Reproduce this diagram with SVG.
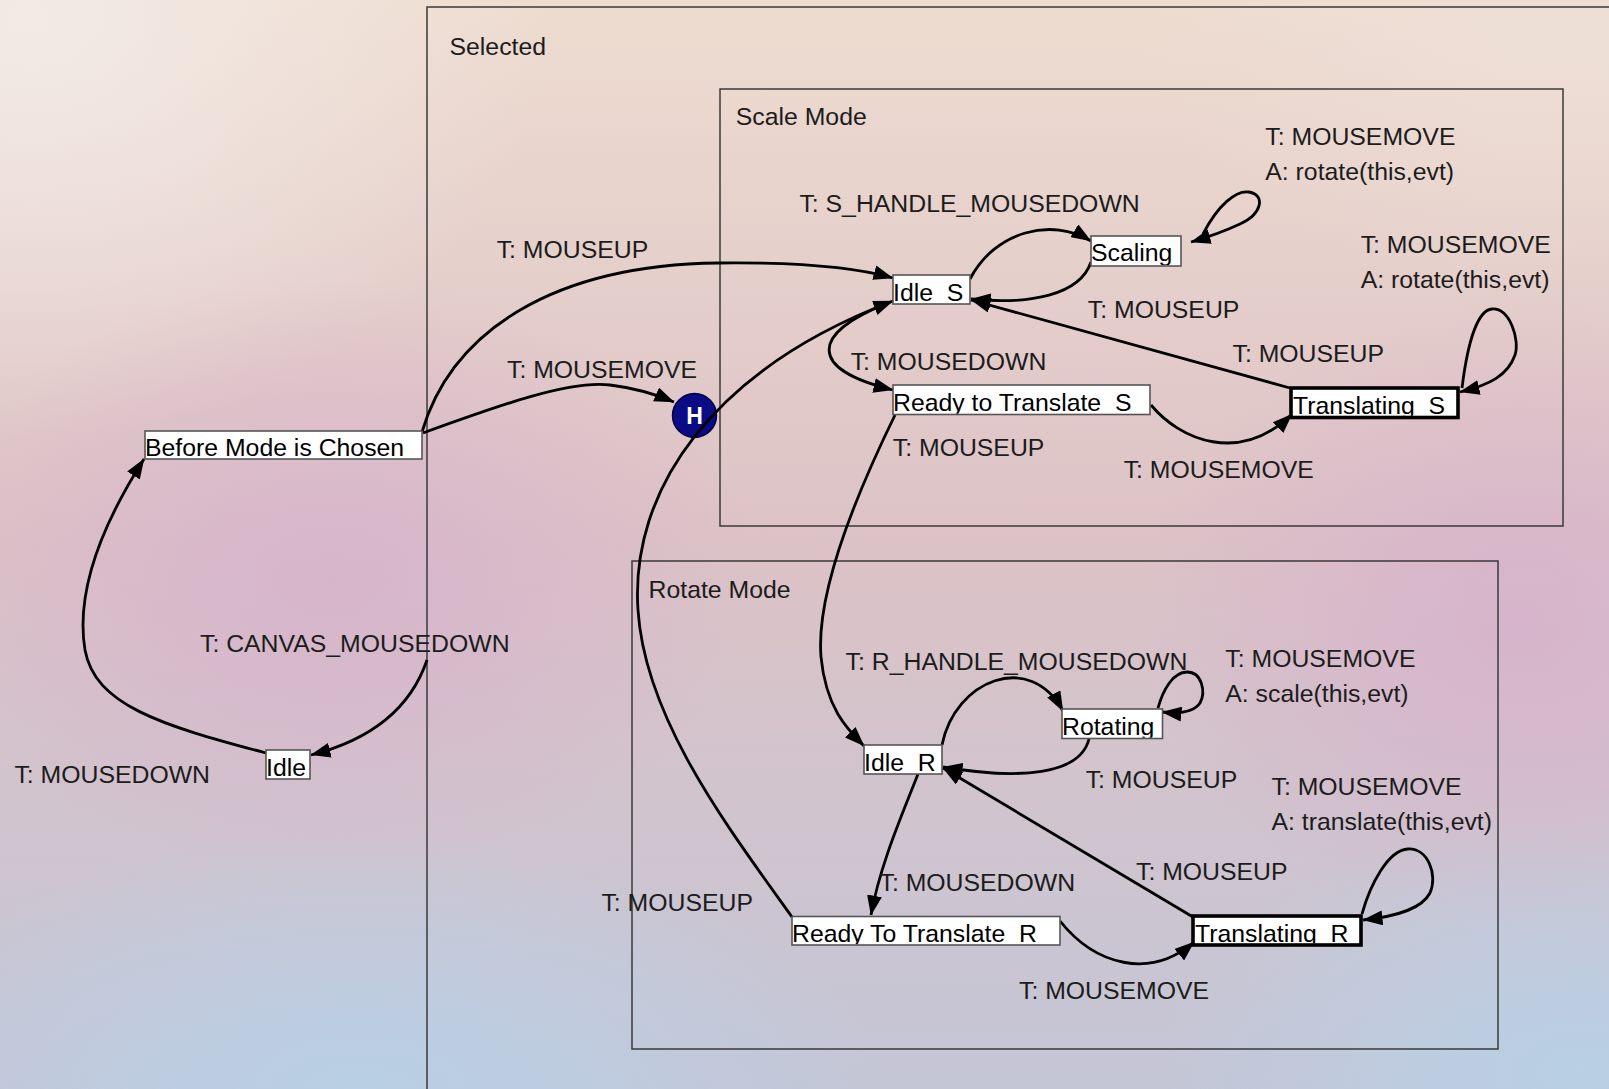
<svg xmlns="http://www.w3.org/2000/svg" width="1609" height="1089" viewBox="0 0 1609 1089">
  <defs>
    <linearGradient id="bgBase" x1="0" y1="0" x2="0" y2="1">
      <stop offset="0" stop-color="#eedcd0"/>
      <stop offset="0.5" stop-color="#dcc2c6"/>
      <stop offset="1" stop-color="#c4c6d6"/>
    </linearGradient>
    <radialGradient id="glowPeach" cx="0" cy="0" r="1" gradientUnits="userSpaceOnUse" gradientTransform="translate(30 20) scale(520 420)">
      <stop offset="0" stop-color="#f3ebe6" stop-opacity="0.95"/>
      <stop offset="1" stop-color="#f3ebe6" stop-opacity="0"/>
    </radialGradient>
    <radialGradient id="glowMauveL" cx="0" cy="0" r="1" gradientUnits="userSpaceOnUse" gradientTransform="translate(330 580) scale(420 300)">
      <stop offset="0" stop-color="#d6b2cc" stop-opacity="0.85"/>
      <stop offset="1" stop-color="#d6b2cc" stop-opacity="0"/>
    </radialGradient>
    <radialGradient id="glowMauveR" cx="0" cy="0" r="1" gradientUnits="userSpaceOnUse" gradientTransform="translate(1520 620) scale(380 320)">
      <stop offset="0" stop-color="#d6b0cc" stop-opacity="0.8"/>
      <stop offset="1" stop-color="#d6b0cc" stop-opacity="0"/>
    </radialGradient>
    <radialGradient id="glowBlueL" cx="0" cy="0" r="1" gradientUnits="userSpaceOnUse" gradientTransform="translate(360 1089) scale(520 260)">
      <stop offset="0" stop-color="#b8d0e6" stop-opacity="0.95"/>
      <stop offset="1" stop-color="#b8d0e6" stop-opacity="0"/>
    </radialGradient>
    <radialGradient id="glowBlueR" cx="0" cy="0" r="1" gradientUnits="userSpaceOnUse" gradientTransform="translate(1580 1070) scale(420 260)">
      <stop offset="0" stop-color="#b8d0e6" stop-opacity="0.95"/>
      <stop offset="1" stop-color="#b8d0e6" stop-opacity="0"/>
    </radialGradient>
    <radialGradient id="glowTopR" cx="0" cy="0" r="1" gradientUnits="userSpaceOnUse" gradientTransform="translate(1560 30) scale(420 260)">
      <stop offset="0" stop-color="#eee0d8" stop-opacity="0.8"/>
      <stop offset="1" stop-color="#eee0d8" stop-opacity="0"/>
    </radialGradient>
    <marker id="arrow" viewBox="0 0 20 15" markerWidth="20" markerHeight="15" refX="19.5" refY="7.5" orient="auto" markerUnits="userSpaceOnUse">
      <path d="M0,0 L20,7.5 L0,15 z" fill="#000"/>
    </marker>

    <!-- label clipping for each simple state -->
    <clipPath id="clip-before"><rect x="145" y="431" width="277" height="27.2"/></clipPath>
    <clipPath id="clip-idle"><rect x="266" y="750" width="44" height="28.2"/></clipPath>
    <clipPath id="clip-idle-s"><rect x="893" y="275" width="77" height="28.2"/></clipPath>
    <clipPath id="clip-scaling"><rect x="1091" y="236" width="90" height="29.2"/></clipPath>
    <clipPath id="clip-rts"><rect x="893" y="385" width="257" height="28.7"/></clipPath>
    <clipPath id="clip-ts"><rect x="1291" y="388" width="167" height="27.8"/></clipPath>
    <clipPath id="clip-idle-r"><rect x="864" y="745" width="78" height="28.2"/></clipPath>
    <clipPath id="clip-rotating"><rect x="1062" y="709" width="100.5" height="28.7"/></clipPath>
    <clipPath id="clip-rtr"><rect x="792" y="916.5" width="268" height="27.7"/></clipPath>
    <clipPath id="clip-tr"><rect x="1193" y="916" width="168" height="27.3"/></clipPath>

    <style>
      text { font-family: "Liberation Sans", Arial, Helvetica, sans-serif; font-size: 24.8px; fill: #1c1c1c; }
      .container { fill: none; stroke: #3a3a3a; stroke-width: 1.5; }
      .state-fill { fill: #ffffff; }
      .state-line { fill: none; stroke: #555555; stroke-width: 1.6; }
      .state-line-active { fill: none; stroke: #000000; stroke-width: 3.6; }
      .state-label { fill: #000000; }
      .edge { fill: none; stroke: #000000; stroke-width: 2.8; marker-end: url(#arrow); }
      .history { fill: #0b0b86; stroke: #000040; stroke-width: 1.5; }
      .history-label { fill: #ffffff; font-weight: bold; font-size: 23px; }
    </style>
  </defs>

  <!-- backdrop -->
  <rect width="1609" height="1089" fill="url(#bgBase)"/>
  <rect width="1609" height="1089" fill="url(#glowPeach)"/>
  <rect width="1609" height="1089" fill="url(#glowTopR)"/>
  <rect width="1609" height="1089" fill="url(#glowMauveL)"/>
  <rect width="1609" height="1089" fill="url(#glowMauveR)"/>
  <rect width="1609" height="1089" fill="url(#glowBlueL)"/>
  <rect width="1609" height="1089" fill="url(#glowBlueR)"/>

  <!-- composite states -->
  <g id="selected">
    <rect class="container" x="427" y="7" width="1200" height="1100"/>
    <text x="449.5" y="55">Selected</text>
  </g>
  <g id="scale-mode">
    <rect class="container" x="720" y="89" width="843" height="437"/>
    <text x="735.8" y="124.8">Scale Mode</text>
  </g>
  <g id="rotate-mode">
    <rect class="container" x="632" y="561" width="866" height="488"/>
    <text x="648.6" y="598">Rotate Mode</text>
  </g>

  <!-- history pseudo-state (drawn under the transitions that cross it) -->
  <g id="history">
    <circle class="history" cx="694.5" cy="415.5" r="22"/>
    <text class="history-label" x="694.5" y="424" text-anchor="middle">H</text>
  </g>

  <!-- transitions -->
  <g id="connectors">
    <path class="edge" d="M422,432 C452,330 555,265 718,263 C805,262 858,268 893,278"/>
    <path class="edge" d="M423,433 C500,405 570,380 610,385 C635,388 655,394 674,402"/>
    <path class="edge" d="M792,917 C730,830 645,720 638,610 C630,490 712,370 893,301"/>
    <path class="edge" d="M886,304 C812,333 806,369 893,390"/>
    <path class="edge" d="M970,279 C995,231 1052,217 1091,241"/>
    <path class="edge" d="M1091,262 C1080,295 1030,305 971,299"/>
    <path class="edge" d="M1203,234 C1218,205 1236,190 1249,192 C1266,195 1262,214 1240,224 C1225,231 1205,238 1191,242"/>
    <path class="edge" d="M1290,388 L971,300"/>
    <path class="edge" d="M1151,405 C1180,440 1240,465 1292,414"/>
    <path class="edge" d="M1462,388 C1468,340 1478,310 1492,309 C1510,308 1520,340 1515,355 C1508,375 1490,385 1460,392"/>
    <path class="edge" d="M895,415 C852,503 816,595 821,657 C826,708 847,729 864,746"/>
    <path class="edge" d="M942,745 C955,680 1030,650 1063,711"/>
    <path class="edge" d="M1089,739 C1080,775 1020,780 943,767"/>
    <path class="edge" d="M1158,708 C1163,690 1173,672 1187,672 C1202,672 1206,692 1200,703 C1194,712 1180,714 1162,712"/>
    <path class="edge" d="M918,774 C902,815 880,865 871,915"/>
    <path class="edge" d="M1193,917 L943,768"/>
    <path class="edge" d="M1060,921 C1095,965 1150,980 1194,942"/>
    <path class="edge" d="M1362,914 C1370,885 1388,850 1408,849 C1428,848 1438,875 1430,893 C1422,908 1400,916 1363,920"/>
    <path class="edge" d="M266,753 C160,725 95,705 85,650 C75,590 105,520 144,459"/>
    <path class="edge" d="M427,660 C410,710 370,740 311,755"/>

    <!-- transition labels -->
    <text x="496.7" y="258.2">T: MOUSEUP</text>
    <text x="507" y="378.2">T: MOUSEMOVE</text>
    <text x="200" y="652.2">T: CANVAS_MOUSEDOWN</text>
    <text x="14.4" y="782.6">T: MOUSEDOWN</text>
    <text x="799.4" y="212">T: S_HANDLE_MOUSEDOWN</text>
    <text x="1265.3" y="145.3">T: MOUSEMOVE</text>
    <text x="1265.3" y="180.2">A: rotate(this,evt)</text>
    <text x="1360.7" y="253">T: MOUSEMOVE</text>
    <text x="1360.7" y="287.9">A: rotate(this,evt)</text>
    <text x="1087.8" y="317.7">T: MOUSEUP</text>
    <text x="1232.5" y="361.8">T: MOUSEUP</text>
    <text x="850.7" y="370">T: MOUSEDOWN</text>
    <text x="892.8" y="456.2">T: MOUSEUP</text>
    <text x="1123.7" y="477.8">T: MOUSEMOVE</text>
    <text x="845.6" y="669.7">T: R_HANDLE_MOUSEDOWN</text>
    <text x="1225.3" y="666.6">T: MOUSEMOVE</text>
    <text x="1225.3" y="701.5">A: scale(this,evt)</text>
    <text x="1085.7" y="787.7">T: MOUSEUP</text>
    <text x="1271.5" y="794.9">T: MOUSEMOVE</text>
    <text x="1271.5" y="829.8">A: translate(this,evt)</text>
    <text x="1136" y="880">T: MOUSEUP</text>
    <text x="879.5" y="891.3">T: MOUSEDOWN</text>
    <text x="601.4" y="910.8">T: MOUSEUP</text>
    <text x="1019" y="999.1">T: MOUSEMOVE</text>
  </g>

  <!-- simple states: fill, clipped label, then outline on top -->
  <g id="before-mode-is-chosen">
    <rect class="state-fill" x="145" y="431" width="277" height="28"/>
    <text class="state-label" clip-path="url(#clip-before)" x="145" y="455.5">Before Mode is Chosen</text>
    <rect class="state-line" x="145" y="431" width="277" height="28"/>
  </g>
  <g id="idle">
    <rect class="state-fill" x="266" y="750" width="44" height="29"/>
    <text class="state-label" clip-path="url(#clip-idle)" x="266" y="775.5">Idle</text>
    <rect class="state-line" x="266" y="750" width="44" height="29"/>
  </g>
  <g id="idle-s">
    <rect class="state-fill" x="893" y="275" width="77" height="29"/>
    <text class="state-label" clip-path="url(#clip-idle-s)" x="893" y="300.5">Idle_S</text>
    <rect class="state-line" x="893" y="275" width="77" height="29"/>
  </g>
  <g id="scaling">
    <rect class="state-fill" x="1091" y="236" width="90" height="30"/>
    <text class="state-label" clip-path="url(#clip-scaling)" x="1091" y="260.5">Scaling</text>
    <rect class="state-line" x="1091" y="236" width="90" height="30"/>
  </g>
  <g id="ready-to-translate-s">
    <rect class="state-fill" x="893" y="385" width="257" height="29.5"/>
    <text class="state-label" clip-path="url(#clip-rts)" x="893" y="411">Ready to Translate_S</text>
    <rect class="state-line" x="893" y="385" width="257" height="29.5"/>
  </g>
  <g id="translating-s">
    <rect class="state-fill" x="1291" y="388" width="167" height="29.5"/>
    <text class="state-label" clip-path="url(#clip-ts)" x="1293" y="413.5">Translating_S</text>
    <rect class="state-line-active" x="1291" y="388" width="167" height="29.5"/>
  </g>
  <g id="idle-r">
    <rect class="state-fill" x="864" y="745" width="78" height="29"/>
    <text class="state-label" clip-path="url(#clip-idle-r)" x="864" y="770.5">Idle_R</text>
    <rect class="state-line" x="864" y="745" width="78" height="29"/>
  </g>
  <g id="rotating">
    <rect class="state-fill" x="1062" y="709" width="100.5" height="29.5"/>
    <text class="state-label" clip-path="url(#clip-rotating)" x="1062" y="735">Rotating</text>
    <rect class="state-line" x="1062" y="709" width="100.5" height="29.5"/>
  </g>
  <g id="ready-to-translate-r">
    <rect class="state-fill" x="792" y="916.5" width="268" height="28.5"/>
    <text class="state-label" clip-path="url(#clip-rtr)" x="792" y="941.5">Ready To Translate_R</text>
    <rect class="state-line" x="792" y="916.5" width="268" height="28.5"/>
  </g>
  <g id="translating-r">
    <rect class="state-fill" x="1193" y="916" width="168" height="29"/>
    <text class="state-label" clip-path="url(#clip-tr)" x="1195" y="941.5">Translating_R</text>
    <rect class="state-line-active" x="1193" y="916" width="168" height="29"/>
  </g>
</svg>
